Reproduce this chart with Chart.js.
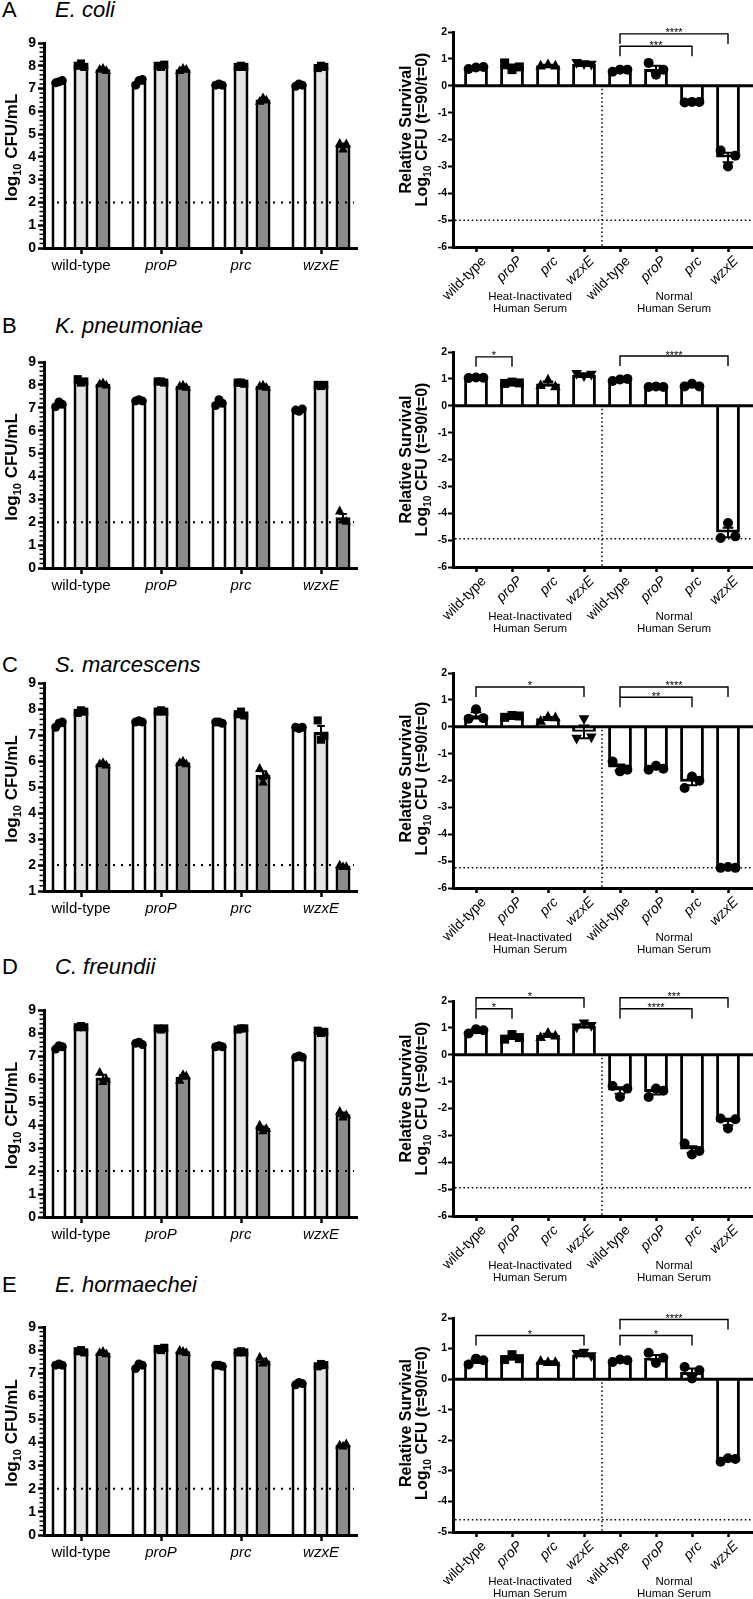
<!DOCTYPE html>
<html><head><meta charset="utf-8">
<script src="https://cdn.jsdelivr.net/npm/chart.js@4.4.1/dist/chart.umd.min.js"></script>
<style>
html,body{margin:0;padding:0;background:#fff;}
body{width:753px;height:1599px;overflow:hidden;position:relative;font-family:"Liberation Sans",Arial,Helvetica,sans-serif;}
canvas{position:absolute;}
.ttl{position:absolute;font-size:22px;line-height:22px;height:22px;white-space:nowrap;color:#000;}
</style></head><body>
<script>
// ---------------- DATA ----------------
const leftCategories = ['wild-type', 'proP', 'prc', 'wzxE'];
const rightCategories = ['wild-type', 'proP', 'prc', 'wzxE', 'wild-type', 'proP', 'prc', 'wzxE'];
const serumGroupLabels = [['Heat-Inactivated', 'Human Serum'], ['Normal', 'Human Serum']];
const serumGroupCenters = [1.5, 5.5];
const serumDivider = 3.5;
const panelLetters = ['A', 'B', 'C', 'D', 'E'];
const speciesNames = ['E. coli', 'K. pneumoniae', 'S. marcescens', 'C. freundii', 'E. hormaechei'];

// log10 CFU/mL (3 replicates per strain): t=0, heat-inactivated serum, normal serum
const ecoliT0  = [[7.25, 7.3, 7.35], [7.15, 7.35, 7.4], [7.15, 7.2, 7.15], [7.1, 7.2, 7.15]];
const ecoliHI  = [[8.0, 8.1, 7.95], [8.0, 7.95, 8.05], [7.95, 8.0, 7.95], [7.9, 8.0, 7.95]];
const ecoliNHS = [[7.85, 7.9, 7.8], [7.8, 7.9, 7.85], [6.45, 6.6, 6.5], [4.6, 4.35, 4.58]];

const kpneuT0  = [[7.05, 7.25, 7.15], [7.3, 7.35, 7.3], [7.1, 7.35, 7.2], [6.9, 6.85, 6.95]];
const kpneuHI  = [[8.25, 8.1, 8.15], [8.15, 8.15, 8.1], [8.1, 8.1, 8.05], [8.0, 7.95, 8.0]];
const kpneuNHS = [[8.05, 8.1, 8.0], [7.95, 8.0, 7.9], [7.95, 8.0, 7.9], [2.5, 2.1, 2.05]];

const smarcT0  = [[7.3, 7.45, 7.5], [7.5, 7.55, 7.5], [7.5, 7.5, 7.45], [7.3, 7.25, 7.3]];
const smarcHI  = [[7.85, 7.95, 7.9], [7.9, 7.95, 7.9], [7.8, 7.9, 7.75], [7.56, 6.82, 6.97]];
const smarcNHS = [[5.9, 5.95, 5.85], [5.95, 6.0, 5.9], [5.72, 5.2, 5.46], [2.0, 1.95, 1.95]];

const cfreuT0  = [[7.3, 7.45, 7.4], [7.55, 7.6, 7.5], [7.4, 7.45, 7.4], [6.95, 7.0, 6.95]];
const cfreuHI  = [[8.25, 8.3, 8.25], [8.2, 8.15, 8.2], [8.15, 8.2, 8.2], [8.1, 8.0, 8.05]];
const cfreuNHS = [[6.3, 5.9, 6.0], [5.95, 6.2, 6.15], [4.0, 3.75, 3.85], [4.6, 4.35, 4.45]];

const ehormT0  = [[7.35, 7.4, 7.35], [7.2, 7.4, 7.35], [7.35, 7.35, 7.3], [6.5, 6.6, 6.55]];
const ehormHI  = [[7.95, 8.0, 7.9], [8.05, 8.0, 8.1], [7.9, 7.95, 7.9], [7.3, 7.4, 7.35]];
const ehormNHS = [[7.9, 7.95, 7.85], [8.0, 7.95, 7.9], [7.7, 7.45, 7.5], [3.9, 3.85, 3.95]];

// Relative survival log10 CFU (t=90/t=0), 8 groups x 3 replicates
const ecoliSurvival = [[0.62, 0.68, 0.7], [0.85, 0.6, 0.7], [0.75, 0.8, 0.75], [0.85, 0.8, 0.78],
                       [0.52, 0.6, 0.6], [0.85, 0.41, 0.6], [-0.62, -0.6, -0.6], [-2.41, -3.0, -2.6]];
const kpneuSurvival = [[1.03, 1.05, 1.04], [0.83, 0.88, 0.85], [0.77, 0.98, 0.73], [1.18, 1.1, 1.15],
                       [0.92, 0.98, 1.0], [0.7, 0.72, 0.7], [0.72, 0.82, 0.72], [-4.92, -4.36, -4.86]];
const smarcSurvival = [[0.3, 0.65, 0.32], [0.35, 0.42, 0.4], [0.22, 0.38, 0.35], [-0.45, 0.28, -0.4],
                       [-1.29, -1.66, -1.6], [-1.6, -1.45, -1.56], [-2.28, -1.85, -2.01], [-5.25, -5.22, -5.25]];
const cfreuSurvival = [[0.79, 0.95, 0.91], [0.58, 0.75, 0.64], [0.66, 0.82, 0.72], [1.01, 1.16, 1.07],
                       [-1.16, -1.57, -1.26], [-1.57, -1.26, -1.34], [-3.3, -3.71, -3.58], [-2.37, -2.74, -2.4]];
const ehormSurvival = [[0.48, 0.67, 0.62], [0.64, 0.8, 0.67], [0.6, 0.56, 0.56], [0.82, 0.86, 0.75],
                       [0.56, 0.64, 0.62], [0.86, 0.53, 0.7], [0.4, 0.02, 0.29], [-2.7, -2.59, -2.61]];

// significance brackets: [from group, to group, y level, label]
const ecoliBrackets = [[4, 6, 1.47, '***'], [4, 7, 1.93, '****']];
const kpneuBrackets = [[0, 1, 1.82, '*'], [4, 7, 1.85, '****']];
const smarcBrackets = [[0, 3, 1.48, '*'], [4, 6, 1.1, '**'], [4, 7, 1.48, '****']];
const cfreuBrackets = [[0, 1, 1.71, '*'], [0, 3, 2.12, '*'], [4, 6, 1.71, '****'], [4, 7, 2.12, '***']];
const ehormBrackets = [[0, 3, 1.43, '*'], [4, 6, 1.43, '*'], [4, 7, 1.95, '****']];

const cfuLimit = 2;
const survivalLimit = [-5, -4.95, -5.25, -4.95, -4.6];
const cfuAxisMin = [0, 0, 1, 0, 0];
const cfuAxisMax = [9, 9, 9, 9, 9];
const survAxisMin = [-6, -6, -6, -6, -5];
const survAxisMax = [2, 2, 2, 2, 2];

// ---------------- LAYOUT / STYLE ----------------
const FONT = '"Liberation Sans", Arial, Helvetica, sans-serif';
const leftTop = [43, 362, 683, 1010, 1327];
const leftBottom = [248, 568, 891, 1217, 1535];
const rightTop = [32, 352, 673, 1001, 1318];
const rightBottom = [247, 567, 888, 1216, 1532];
const titleBaseline = [18, 334, 673, 975, 1293];
const rightTitleShift = [-10, 0, -2, -10, -2];
const L_X0 = 44, L_X1 = 357, L_TICK0 = 81, L_STEP = 80;
const R_X0 = 453, R_X1 = 753, R_TICK0 = 476, R_STEP = 36;
const barColors = ['#ffffff', '#e4e4e4', '#8c8c8c'];
const leftShapes = ['circle', 'square', 'triangle'];
const rightShapes = ['circle', 'square', 'triangle', 'down', 'circle', 'circle', 'circle', 'circle'];

const panels = [
  {cfu: [ecoliT0, ecoliHI, ecoliNHS], surv: ecoliSurvival, brackets: ecoliBrackets},
  {cfu: [kpneuT0, kpneuHI, kpneuNHS], surv: kpneuSurvival, brackets: kpneuBrackets},
  {cfu: [smarcT0, smarcHI, smarcNHS], surv: smarcSurvival, brackets: smarcBrackets},
  {cfu: [cfreuT0, cfreuHI, cfreuNHS], surv: cfreuSurvival, brackets: cfreuBrackets},
  {cfu: [ehormT0, ehormHI, ehormNHS], surv: ehormSurvival, brackets: ehormBrackets}
];

Chart.defaults.font.family = FONT;
Chart.defaults.color = '#000';

function mean(a) { return a.reduce((s, v) => s + v, 0) / a.length; }
function sem(a) {
  const m = mean(a);
  const sd = Math.sqrt(a.reduce((s, v) => s + (v - m) * (v - m), 0) / (a.length - 1));
  return sd / Math.sqrt(a.length);
}
function makeCanvas(x, y, w, h) {
  const c = document.createElement('canvas');
  c.width = w; c.height = h;
  c.style.left = x + 'px'; c.style.top = y + 'px';
  c.style.width = w + 'px'; c.style.height = h + 'px';
  document.body.appendChild(c);
  return c;
}
function drawMarker(ctx, shape, x, y, r) {
  ctx.beginPath();
  if (shape === 'circle') ctx.arc(x, y, r, 0, Math.PI * 2);
  else if (shape === 'square') ctx.rect(x - r * 0.9, y - r * 0.9, r * 1.8, r * 1.8);
  else if (shape === 'triangle') { ctx.moveTo(x, y - r * 1.15); ctx.lineTo(x + r * 1.05, y + r * 0.8); ctx.lineTo(x - r * 1.05, y + r * 0.8); ctx.closePath(); }
  else { ctx.moveTo(x, y + r * 1.15); ctx.lineTo(x + r * 1.05, y - r * 0.8); ctx.lineTo(x - r * 1.05, y - r * 0.8); ctx.closePath(); }
  ctx.fill();
}
function drawErrorBar(ctx, x, yTop, yBot, cap) {
  ctx.beginPath();
  ctx.moveTo(x, yTop); ctx.lineTo(x, yBot);
  ctx.moveTo(x - cap / 2, yTop); ctx.lineTo(x + cap / 2, yTop);
  ctx.moveTo(x - cap / 2, yBot); ctx.lineTo(x + cap / 2, yBot);
  ctx.stroke();
}
function drawRotatedRich(ctx, parts, bx, cy, size) {
  ctx.save();
  ctx.translate(bx, cy);
  ctx.rotate(-Math.PI / 2);
  const sub = size * 0.65;
  let total = 0;
  const ws = parts.map(p => { ctx.font = 'bold ' + (p.sub ? sub : size) + 'px ' + FONT; const w = ctx.measureText(p.t).width; total += w; return w; });
  let x = -total / 2;
  ctx.fillStyle = '#000'; ctx.textAlign = 'left'; ctx.textBaseline = 'alphabetic';
  parts.forEach((p, i) => {
    ctx.font = 'bold ' + (p.sub ? sub : size) + 'px ' + FONT;
    ctx.fillText(p.t, x, p.sub ? size * 0.24 : 0);
    x += ws[i];
  });
  ctx.restore();
}
function italicFor(label) { return label === 'wild-type' ? 'normal' : 'italic'; }
function fixX(h) { return s => { s.height = h; s.paddingLeft = 0; s.paddingRight = 0; s.paddingTop = 0; s.paddingBottom = 0; }; }
function fixY(w) { return s => { s.width = w; s.paddingLeft = 0; s.paddingRight = 0; s.paddingTop = 0; s.paddingBottom = 0; }; }

// ---------------- TITLES ----------------
panelLetters.forEach((L, r) => {
  const a = document.createElement('div');
  a.className = 'ttl'; a.style.left = '2px'; a.style.top = (titleBaseline[r] - 18.6) + 'px';
  a.textContent = L; document.body.appendChild(a);
  const s = document.createElement('div');
  s.className = 'ttl'; s.style.left = '55px'; s.style.top = (titleBaseline[r] - 18.6) + 'px';
  s.style.fontStyle = 'italic'; s.textContent = speciesNames[r]; document.body.appendChild(s);
});

// ---------------- LEFT PANELS ----------------
panels.forEach((p, r) => {
  const padTop = 30, xH = 40;
  const cy = leftTop[r] - padTop;
  const ch = leftBottom[r] - cy + xH;
  const canvas = makeCanvas(0, cy, 376, ch);
  const decor = {
    id: 'leftDecor' + r,
    afterDatasetsDraw(chart) {
      const ctx = chart.ctx, ys = chart.scales.y, a = chart.chartArea;
      ctx.save();
      ctx.strokeStyle = '#000'; ctx.fillStyle = '#000';
      ctx.lineWidth = 1.5;
      for (let n = Math.round(ys.min * 5); n <= Math.round(ys.max * 5); n++) {
        if (n % 5 === 0) continue;
        const y = ys.getPixelForValue(n / 5);
        ctx.beginPath(); ctx.moveTo(a.left - 4.5, y); ctx.lineTo(a.left, y); ctx.stroke();
      }
      ctx.setLineDash([2, 6]); ctx.lineWidth = 2;
      const ly = ys.getPixelForValue(cfuLimit);
      ctx.beginPath(); ctx.moveTo(a.left + 13, ly); ctx.lineTo(a.right - 3, ly); ctx.stroke();
      ctx.setLineDash([]);
      p.cfu.forEach((reps, k) => {
        const meta = chart.getDatasetMeta(k);
        meta.data.forEach((el, i) => {
          const vals = reps[i], m = mean(vals), e = sem(vals), bw = el.width;
          vals.forEach((v, j) => drawMarker(ctx, leftShapes[k], el.x + (j - 1) * bw * 0.22, ys.getPixelForValue(v), 4.5));
          ctx.lineWidth = 2;
          drawErrorBar(ctx, el.x, ys.getPixelForValue(m + e), ys.getPixelForValue(m - e), bw * 0.5);
        });
      });
      ctx.restore();
    },
    afterDraw(chart) {
      const a = chart.chartArea;
      drawRotatedRich(chart.ctx, [{t: 'log'}, {t: '10', sub: true}, {t: ' CFU/mL'}], 17, (a.top + a.bottom) / 2 + 2, 17);
    }
  };
  new Chart(canvas, {
    type: 'bar',
    data: {
      datasets: p.cfu.map((reps, k) => ({
        data: reps.map((vals, i) => ({x: i, y: mean(vals)})),
        backgroundColor: barColors[k], borderColor: '#000', borderWidth: 3, borderSkipped: 'start'
      }))
    },
    options: {
      responsive: false, animation: false, devicePixelRatio: 1,
      layout: {padding: {left: 0, top: padTop, right: 376 - L_X1, bottom: 0}},
      plugins: {legend: {display: false}, tooltip: {enabled: false}},
      datasets: {bar: {categoryPercentage: 0.825, barPercentage: 0.68}},
      scales: {
        x: {
          type: 'linear', bounds: 'data', offset: false,
          min: -(L_TICK0 - L_X0) / L_STEP, max: (L_X1 - L_TICK0) / L_STEP,
          afterBuildTicks: s => { s.ticks = leftCategories.map((c, i) => ({value: i})); },
          afterFit: fixX(xH),
          grid: {display: true, offset: false, drawOnChartArea: false, drawTicks: true, tickLength: 6, tickWidth: 2.5, tickColor: '#000'},
          border: {display: true, color: '#000', width: 3, z: 1},
          ticks: {
            autoSkip: false, maxRotation: 0, minRotation: 0, padding: 3, color: '#000',
            callback: v => leftCategories[v],
            font: c => ({family: FONT, size: 15, style: c.tick ? italicFor(leftCategories[c.tick.value]) : 'normal'})
          }
        },
        y: {
          type: 'linear', min: cfuAxisMin[r], max: cfuAxisMax[r],
          afterFit: fixY(L_X0),
          grid: {display: true, drawOnChartArea: false, drawTicks: true, tickLength: 6, tickWidth: 2.5, tickColor: '#000'},
          border: {display: true, color: '#000', width: 3, z: 1},
          ticks: {stepSize: 1, padding: 2, color: '#000', font: {family: FONT, size: 14, weight: 'bold'}}
        }
      }
    },
    plugins: [decor]
  });
});

// ---------------- RIGHT PANELS ----------------
panels.forEach((p, r) => {
  const padTop = 32, xH = 70;
  const cy = rightTop[r] - padTop;
  const ch = rightBottom[r] - cy + xH;
  const canvas = makeCanvas(376, cy, 377, ch);
  const decor = {
    id: 'rightDecor' + r,
    afterDatasetsDraw(chart) {
      const ctx = chart.ctx, xs = chart.scales.x, ys = chart.scales.y, a = chart.chartArea;
      ctx.save();
      ctx.strokeStyle = '#000'; ctx.fillStyle = '#000';
      const y0 = ys.getPixelForValue(0);
      ctx.setLineDash([1.5, 2.7]); ctx.lineWidth = 1.5;
      const dx = xs.getPixelForValue(serumDivider);
      ctx.beginPath(); ctx.moveTo(dx, y0 + 3); ctx.lineTo(dx, a.bottom); ctx.stroke();
      const ly = ys.getPixelForValue(survivalLimit[r]);
      ctx.beginPath(); ctx.moveTo(a.left + 2, ly); ctx.lineTo(a.right, ly); ctx.stroke();
      ctx.setLineDash([]);
      ctx.lineWidth = 3;
      ctx.beginPath(); ctx.moveTo(a.left, y0); ctx.lineTo(a.right, y0); ctx.stroke();
      const meta = chart.getDatasetMeta(0);
      meta.data.forEach((el, i) => {
        const vals = p.surv[i], m = mean(vals), e = sem(vals), bw = el.width;
        vals.forEach((v, j) => drawMarker(ctx, rightShapes[i], el.x + (j - 1) * bw * 0.31, ys.getPixelForValue(v), 5));
        ctx.lineWidth = 2;
        drawErrorBar(ctx, el.x, ys.getPixelForValue(m + e), ys.getPixelForValue(m - e), bw * 0.45);
      });
      ctx.lineWidth = 1.4;
      p.brackets.forEach(([i, j, yv, label]) => {
        const x1 = xs.getPixelForValue(i), x2 = xs.getPixelForValue(j), y = ys.getPixelForValue(yv);
        ctx.beginPath();
        ctx.moveTo(x1, y + 10); ctx.lineTo(x1, y); ctx.lineTo(x2, y); ctx.lineTo(x2, y + 10);
        ctx.stroke();
        ctx.font = '11px ' + FONT; ctx.textAlign = 'center'; ctx.textBaseline = 'alphabetic';
        ctx.fillText(label, (x1 + x2) / 2, y + 2.5);
      });
      ctx.restore();
    },
    afterDraw(chart) {
      const ctx = chart.ctx, xs = chart.scales.x, a = chart.chartArea;
      ctx.save();
      ctx.fillStyle = '#000'; ctx.font = '11.5px ' + FONT; ctx.textAlign = 'center'; ctx.textBaseline = 'middle';
      serumGroupLabels.forEach((lines, g) => {
        const gx = xs.getPixelForValue(serumGroupCenters[g]);
        lines.forEach((t, li) => ctx.fillText(t, gx, a.bottom + 50 + li * 12));
      });
      ctx.restore();
      const cyT = (a.top + a.bottom) / 2 + rightTitleShift[r];
      drawRotatedRich(ctx, [{t: 'Relative Survival'}], 35, cyT, 16);
      drawRotatedRich(ctx, [{t: 'Log'}, {t: '10', sub: true}, {t: ' CFU (t=90/t=0)'}], 51, cyT, 16);
    }
  };
  new Chart(canvas, {
    type: 'bar',
    data: {
      datasets: [{
        data: p.surv.map((vals, i) => ({x: i, y: mean(vals)})),
        backgroundColor: '#ffffff', borderColor: '#000', borderWidth: 3, borderSkipped: 'start'
      }]
    },
    options: {
      responsive: false, animation: false, devicePixelRatio: 1,
      layout: {padding: {left: 0, top: padTop, right: 0, bottom: 0}},
      plugins: {legend: {display: false}, tooltip: {enabled: false}},
      datasets: {bar: {categoryPercentage: 1, barPercentage: 0.66}},
      scales: {
        x: {
          type: 'linear', bounds: 'data', offset: false,
          min: -(R_TICK0 - R_X0) / R_STEP, max: (R_X1 - R_TICK0) / R_STEP,
          afterBuildTicks: s => { s.ticks = rightCategories.map((c, i) => ({value: i})); },
          afterFit: fixX(xH),
          grid: {display: true, offset: false, drawOnChartArea: false, drawTicks: true, tickLength: 5, tickWidth: 2.5, tickColor: '#000'},
          border: {display: true, color: '#000', width: 3, z: 1},
          ticks: {
            autoSkip: false, maxRotation: 45, minRotation: 45, padding: 1, labelOffset: 8, color: '#000',
            callback: v => rightCategories[v],
            font: c => ({family: FONT, size: 14, style: c.tick ? italicFor(rightCategories[c.tick.value]) : 'normal'})
          }
        },
        y: {
          type: 'linear', min: survAxisMin[r], max: survAxisMax[r],
          afterFit: fixY(R_X0 - 376),
          grid: {display: true, drawOnChartArea: false, drawTicks: true, tickLength: 5, tickWidth: 2, tickColor: '#000'},
          border: {display: true, color: '#000', width: 3, z: 1},
          ticks: {stepSize: 1, padding: 1, color: '#000', font: {family: FONT, size: 10.5, weight: 'bold'}}
        }
      }
    },
    plugins: [decor]
  });
});
</script>
</body></html>
